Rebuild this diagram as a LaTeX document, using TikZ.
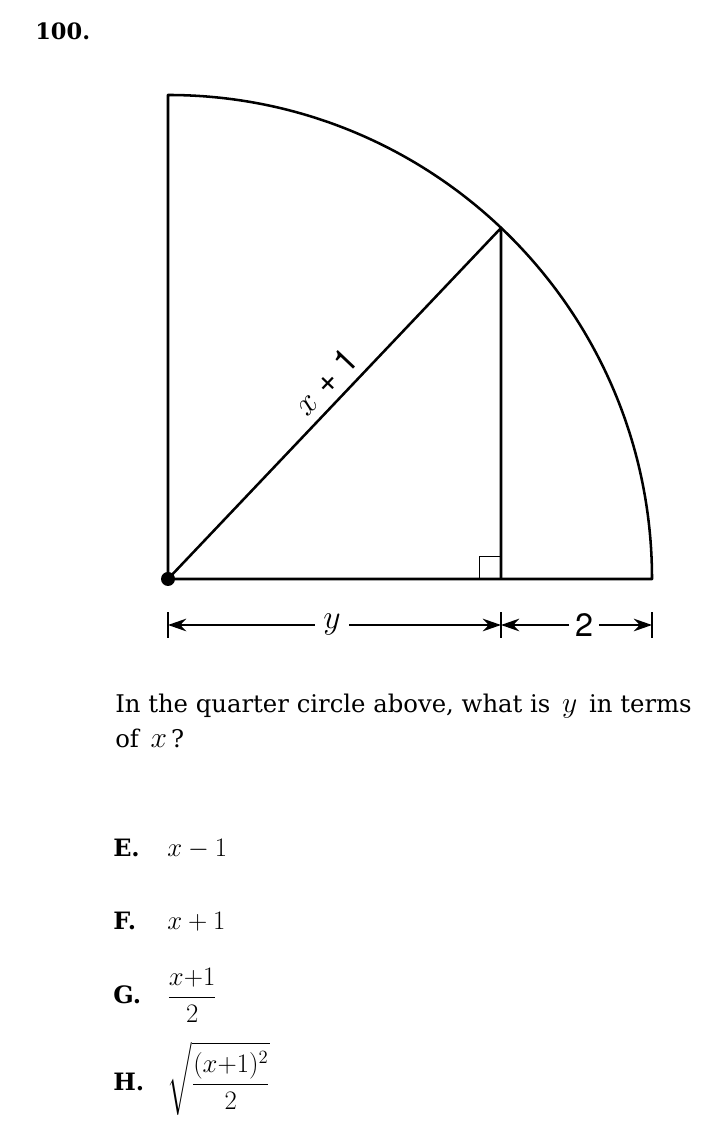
\RequirePackage{fix-cm}
\documentclass[tikz,border=0pt]{standalone}
\usepackage{amsmath}
\usepackage{fontspec}
\setmainfont{DejaVu Serif}
\newfontfamily\dimfont{TeX Gyre Heros}
\usetikzlibrary{arrows.meta}

\newcommand{\qvar}[1]{{\fontsize{21}{20}\selectfont$#1$}}

\tikzset{
  edge/.style={line width=1.8pt, line join=round},
  thin edge/.style={line width=0.7pt},
  dimline/.style={line width=1pt, -{Stealth[length=13pt,width=9pt]}},
  dimbar/.style={line width=1pt},
  txt/.style={anchor=base west, inner sep=0pt, font=\fontsize{17.3}{20}\selectfont},
  lab/.style={txt, font=\fontsize{17}{20}\selectfont\bfseries},
  ans/.style={txt, font=\fontsize{19}{22}\selectfont},
  dimlabel/.style={fill=white, inner ysep=2pt},
}

\begin{document}
\begin{tikzpicture}[x=0.025cm, y=0.025cm]
\useasboundingbox (0,0) rectangle (704,1142);

% quarter circle
\coordinate (O) at (168,563);
\coordinate (T) at (168,1047);
\coordinate (P) at (501,914);
\coordinate (F) at (501,563);
\draw[edge] (O) -- (T) arc[start angle=90, end angle=0, radius=484] -- cycle;
\draw[edge] (O) -- node[sloped, above, pos=0.52, inner sep=6pt, font=\fontsize{24}{26}\selectfont] {$x$ {\dimfont + 1}} (P) -- (F);
\draw[thin edge] (479,563) rectangle (F |- 0,585);
\fill (O) circle[radius=7];

% dimensions
\coordinate (dL) at (168,517);
\coordinate (dM) at (501,517);
\coordinate (dR) at (652,517);
\foreach \p in {dL,dM,dR}
  \draw[dimbar] ([yshift=-13*0.025cm]\p) -- ([yshift=13*0.025cm]\p);
\node[dimlabel, inner xsep=6pt, font=\fontsize{24}{26}\selectfont] (ylab) at (332,517) {$y$};
\node[dimlabel, inner xsep=4pt, font=\dimfont\fontsize{23}{24}\selectfont] (twolab) at (584,517) {2};
\draw[dimline] (ylab) -- (dL);
\draw[dimline] (ylab) -- (dM);
\draw[dimline] (twolab) -- (dM);
\draw[dimline] (twolab) -- (dR);

% texts
\node[lab, font=\fontsize{16}{20}\selectfont\bfseries] (num) at (35,1102) {100.};
\node[txt] (q1) at (115,429) {In the quarter circle above, what is \,\qvar{y}\, in terms};
\node[txt] (q2) at (115,394) {of \,\qvar{x}\,?};

\node[lab] (labE) at (113,285) {E.};
\node[ans] (ansE) at (167,285) {$x-1$};
\node[lab] (labF) at (113,212) {F.};
\node[ans] (ansF) at (167,212) {$x+1$};
\node[lab] (labG) at (113,138) {G.};
\node[ans, font=\fontsize{19}{22}\selectfont] (ansG) at (167,138) {$\dfrac{x{+}1}{2}$};
\node[lab] (labH) at (113,51) {H.};
\node[ans, font=\fontsize{19}{22}\selectfont] (ansH) at (167,51) {$\sqrt{\dfrac{(x{+}1)^2}{2}}$};
\end{tikzpicture}
\end{document}
